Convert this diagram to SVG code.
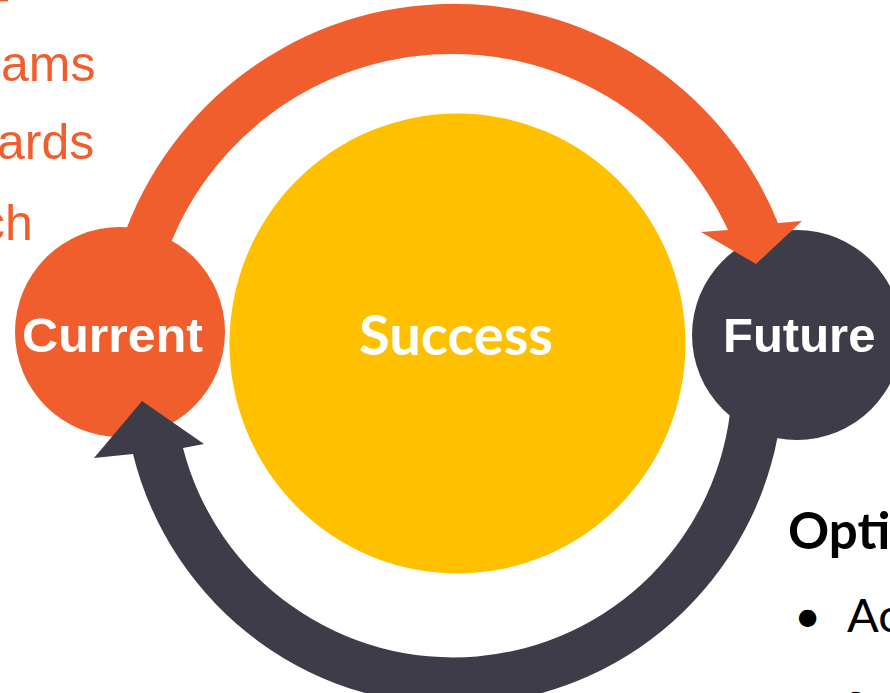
<svg xmlns="http://www.w3.org/2000/svg" width="890" height="693" viewBox="0 0 890 693">
  <style>
    .orange { fill: #F15E2E; }
    .dark { fill: #3E3C48; }
    .yellow { fill: #FFC000; }
    .label { font-family: "Liberation Sans", Arial, sans-serif; font-weight: bold; font-size: 49px; fill: #FFFFFF; }
    .hub { font-family: Lato, "Open Sans", sans-serif; font-weight: bold; font-size: 56px; fill: #FFFFFF; }
    .side { font-family: "Liberation Sans", Arial, sans-serif; font-size: 50px; fill: #F15E2E; }
    .head { font-family: Lato, "Open Sans", sans-serif; font-weight: bold; font-size: 51px; fill: #000000; }
    .item { font-family: Lato, "Open Sans", sans-serif; font-size: 47px; fill: #000000; }
  </style>

  <!-- list text on the left edge -->
  <rect class="orange" x="0" y="0" width="8" height="1.5"/>
  <text class="side" x="1" y="81">ams</text>
  <text class="side" x="-3" y="159">ards</text>
  <text class="side" x="-20" y="240">ch</text>

  <!-- centre -->
  <g id="success">
    <ellipse class="yellow" cx="457.5" cy="343.5" rx="228" ry="230"/>
    <text class="hub" x="359" y="355" textLength="194" lengthAdjust="spacingAndGlyphs">Success</text>
  </g>

  <g id="current">
    <circle class="orange" cx="120" cy="332" r="105"/>
    <text class="label" x="22" y="352" textLength="181" lengthAdjust="spacingAndGlyphs">Current</text>
  </g>

  <g id="future">
    <circle class="dark" cx="797" cy="335" r="105"/>
    <text class="label" x="723" y="352">Future</text>
  </g>

  <!-- curved arrows between the two states -->
  <g id="connectors">
    <path class="orange" d="M118,253.6 A350,350 0 0 1 778,223 L802,221 L756,264 L701,232 L728,230 A304,304 0 0 0 162,267.4 Z"/>
    <path class="dark" d="M781.8,407.9 A330,330 0 0 1 133,454 L94,458 L142,401 L204,444 L183,448 A279,279 0 0 0 731.3,400.8 Z"/>
  </g>

  <!-- notes at the lower right -->
  <text class="head" x="788" y="549">Opti</text>
  <text class="item" x="794" y="632">•</text>
  <text class="item" x="847" y="632">Ac</text>
  <text class="item" x="842" y="714">•</text>
</svg>
